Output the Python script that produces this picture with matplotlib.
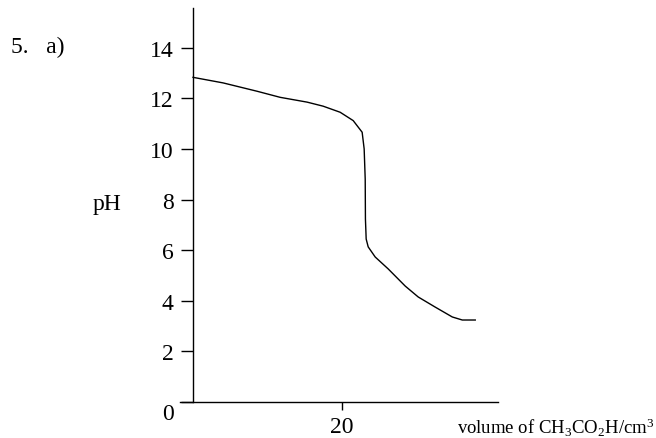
import matplotlib
matplotlib.use("Agg")
import matplotlib.pyplot as plt
from matplotlib.transforms import ScaledTranslation

plt.rcParams['font.family'] = ['Liberation Serif', 'DejaVu Serif']
plt.rcParams['mathtext.fontset'] = 'custom'
plt.rcParams['mathtext.rm'] = 'Liberation Serif'
plt.rcParams['mathtext.it'] = 'Liberation Serif:italic'

# titration curve (volume in cm3, pH)
volume = [0, 4.03, 8.59, 11.68, 15.30, 17.45, 19.73, 21.48, 22.68, 22.95, 23.09,
          23.12, 23.22, 23.49, 24.43, 26.17, 28.46, 30.20, 32.48, 34.77, 36.11, 37.85]
ph = [12.83, 12.61, 12.28, 12.04, 11.85, 11.69, 11.45, 11.12, 10.66, 10.00, 8.81,
      7.23, 6.44, 6.13, 5.73, 5.26, 4.58, 4.15, 3.75, 3.36, 3.24, 3.24]

y_ticks = [0, 2, 4, 6, 8, 10, 12, 14]
x_ticks = [20]

fig = plt.figure(figsize=(6.56, 4.39), dpi=100)
ax = fig.add_axes([180 / 656, 36 / 439, 318 / 656, 394 / 439])

ax.plot(volume, ph, color='black', lw=1.0)

ax.set_xlim(-1.75, 40.9)
ax.set_ylim(0, 15.57)

for s in ['top', 'right']:
    ax.spines[s].set_visible(False)
ax.spines['left'].set_position(('data', 0))
ax.spines['left'].set_linewidth(1.0)
ax.spines['bottom'].set_linewidth(1.0)

ax.set_yticks(y_ticks)
ax.set_yticklabels([str(t) for t in y_ticks])
ax.tick_params(axis='y', direction='out', length=9, width=1.0, pad=5, labelsize=17)
ax.set_xticks(x_ticks)
ax.set_xticklabels([str(t) for t in x_ticks])
ax.tick_params(axis='x', direction='out', length=6, width=1.0, pad=4, labelsize=17)

# the 0 label sits a bit below the axis in the original
lbl0 = ax.get_yticklabels()[0]
lbl0.set_transform(lbl0.get_transform() + ScaledTranslation(0, -9 / 100, fig.dpi_scale_trans))

fig.text(457 / 656, 1 - 428 / 439, 'volume of CH$_3$CO$_2$H/cm$^3$', fontsize=13.5,
         ha='left', va='center')
fig.text(93 / 656, 1 - 205 / 439, 'pH', fontsize=17, ha='left', va='center')
fig.text(11 / 656, 1 - 47 / 439, '5.   a)', fontsize=17, ha='left', va='center')

fig.savefig('out.png', dpi=100)
